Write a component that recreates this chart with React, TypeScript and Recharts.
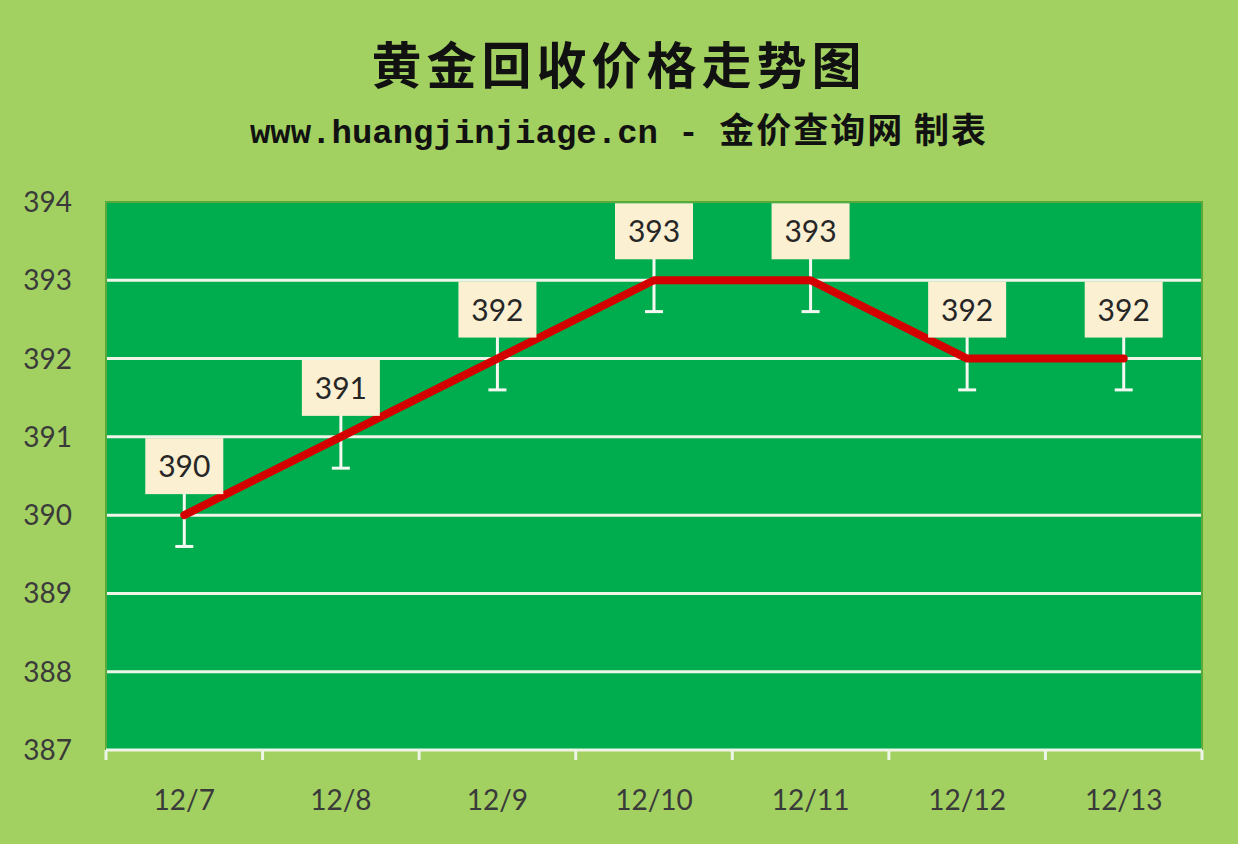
import { LineChart, Line, XAxis, YAxis, CartesianGrid, ErrorBar, LabelList, ReferenceArea } from 'recharts';

const dates = ['12/7', '12/8', '12/9', '12/10', '12/11', '12/12', '12/13'];
const prices = [390, 391, 392, 393, 393, 392, 392];
const yTicks = [387, 388, 389, 390, 391, 392, 393, 394];
const yMin = 387;
const yMax = 394;
// error bar below / above each point
const errLow = 0.4;
const errHigh = 0.3;

const data = dates.map((d, i) => ({ x: i, date: d, price: prices[i], err: [errLow, errHigh] }));

const centerTicks = dates.map((_, i) => i);
const edgeTicks = [...dates.map((_, i) => i - 0.5), dates.length - 0.5];
const xTicks = [...edgeTicks, ...centerTicks].sort((a, b) => a - b);
const gridValues = yTicks.filter((t) => t !== yMin && t !== yMax);

const tickFont = 'Lato, "Open Sans", "Noto Sans", sans-serif';

function XTick(props: any) {
  const { x, y, payload } = props;
  const v = payload.value;
  if (Number.isInteger(v)) {
    return (
      <text x={x} y={y + 52} textAnchor="middle" fill="#3a3a3a" fontSize={28} fontFamily={tickFont}>
        {dates[v]}
      </text>
    );
  }
  return <line x1={x} x2={x} y1={y - 8} y2={y + 2} stroke="#eef5e6" strokeWidth={3} />;
}

function PriceLabel(props: any) {
  const { x, y, value } = props;
  const w = 78;
  const h = 56;
  return (
    <g>
      <rect x={x - w / 2} y={y - 21 - h} width={w} height={h} fill="#fcf0d2" />
      <text
        x={x}
        y={y - 21 - h / 2 + 11}
        textAnchor="middle"
        fill="#262626"
        fontSize={30}
        fontFamily={tickFont}
      >
        {value}
      </text>
    </g>
  );
}

export default function App() {
  return (
    <div style={{ position: 'absolute', left: 0, top: 0, width: 1238, height: 844, background: '#a2d061' }}>
      <div
        style={{
          position: 'absolute',
          left: 0,
          top: 26,
          width: 1238,
          textAlign: 'center',
          fontFamily: '"Noto Sans CJK SC", sans-serif',
          fontWeight: 700,
          fontSize: 50,
          color: '#111',
          letterSpacing: 5,
        }}
      >
        黄金回收价格走势图
      </div>
      <div
        style={{
          position: 'absolute',
          left: 0,
          top: 102,
          width: 1238,
          textAlign: 'center',
          fontFamily: '"Liberation Mono", "Noto Sans CJK SC", monospace',
          fontWeight: 700,
          fontSize: 34,
          color: '#111',
        }}
      >
        www.huangjinjiage.cn -{' '}
        <span style={{ fontFamily: '"Noto Sans CJK SC", sans-serif', fontSize: 35, letterSpacing: 2 }}>
          金价查询网 制表
        </span>
      </div>
      <LineChart
        width={1238}
        height={844}
        data={data}
        margin={{ top: 202, right: 36, left: 20, bottom: 34 }}
        style={{ position: 'absolute', left: 0, top: 0 }}
      >
        <CartesianGrid
          vertical={false}
          fill="#00ad4e"
          stroke="#eef5e6"
          strokeWidth={3}
          horizontalValues={gridValues}
        />
        <ReferenceArea
          x1={-0.5}
          x2={dates.length - 0.5}
          y1={yMin}
          y2={yMax}
          fill="none"
          stroke="#5aaa3a"
          strokeWidth={2}
          ifOverflow="visible"
        />
        <XAxis
          dataKey="x"
          type="number"
          domain={[-0.5, dates.length - 0.5]}
          ticks={xTicks}
          interval={0}
          height={60}
          tickLine={false}
          tickSize={0}
          tickMargin={8}
          axisLine={{ stroke: '#eef5e6', strokeWidth: 3 }}
          tick={<XTick />}
        />
        <YAxis
          domain={[yMin, yMax]}
          ticks={yTicks}
          interval={0}
          width={86}
          axisLine={false}
          tickLine={false}
          tickSize={0}
          tickMargin={34}
          tick={{ fill: '#3a3a3a', fontSize: 28, fontFamily: tickFont }}
        />
        <Line
          dataKey="price"
          stroke="#d40000"
          strokeWidth={8}
          dot={false}
          activeDot={false}
          isAnimationActive={false}
          strokeLinejoin="round"
          strokeLinecap="round"
        >
          <ErrorBar dataKey="err" direction="y" width={9} stroke="#f4f8f0" strokeWidth={3} isAnimationActive={false} />
          <LabelList dataKey="price" content={<PriceLabel />} />
        </Line>
      </LineChart>
    </div>
  );
}
